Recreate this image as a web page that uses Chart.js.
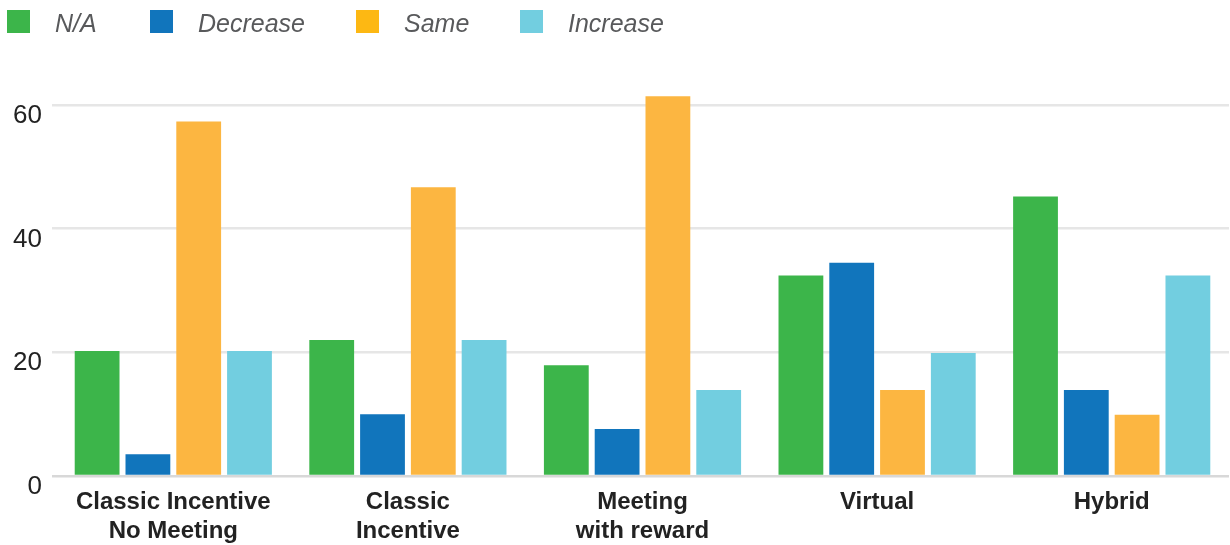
<!DOCTYPE html>
<html>
<head>
<meta charset="utf-8">
<script src="https://cdn.jsdelivr.net/npm/chart.js@4/dist/chart.umd.min.js"></script>
<style>
  html, body { margin: 0; padding: 0; background: #fff; }
  #wrap { position: relative; width: 1230px; height: 545px; }
  #legend { position: absolute; left: 0; top: 0; height: 45px; width: 1230px;
            font-family: "Helvetica Neue", "Liberation Sans", Arial, sans-serif; }
  .item { position: absolute; top: 10px; height: 23px; }
  .box { position: absolute; left: 0; top: 0; width: 23px; height: 23px; }
  .lbl { position: absolute; left: 48px; top: -1px; font-size: 25px; font-style: italic;
         color: #58595b; white-space: nowrap; line-height: 29px; }
</style>
</head>
<body>
<div id="wrap">
  <canvas id="myChart" width="1230" height="545"></canvas>
  <div id="legend"></div>
</div>
<script>
// chart data
const categories = [
  ["Classic Incentive", "No Meeting"],
  ["Classic", "Incentive"],
  ["Meeting", "with reward"],
  "Virtual",
  "Hybrid"
];
const seriesNames = ["N/A", "Decrease", "Same", "Increase"];
const naValues       = [20.2, 22, 17.9, 32.4, 45.2];
const decreaseValues = [3.5, 10, 7.6, 34.5, 13.9];
const sameValues     = [57.3, 46.7, 61.4, 13.9, 9.9];
const increaseValues = [20.2, 22, 13.9, 19.9, 32.4];
const yTicks = [0, 20, 40, 60];

const barColors = ["#3cb54a", "#1175bc", "#fcb641", "#72cee0"];
const legendColors = ["#3cb54a", "#1175bc", "#fdb813", "#72cee0"];
const legendX = [7, 150, 356, 520];

// legend (html, above canvas)
seriesNames.forEach((name, i) => {
  document.getElementById("legend").insertAdjacentHTML("beforeend",
    `<div class="item" style="left:${legendX[i]}px">` +
    `<div class="box" style="background:${legendColors[i]}"></div>` +
    `<div class="lbl">${name}</div>` +
    `</div>`
  );
});

const allValues = [naValues, decreaseValues, sameValues, increaseValues];
const gridColor = (c) => c.tick && c.tick.value === 0 ? '#d8d8d8' : '#e6e6e6';

var ctx = document.getElementById('myChart').getContext('2d');
var chart = new Chart(ctx, {
  type: 'bar',
  data: {
    labels: categories,
    datasets: seriesNames.map((name, i) => ({
      label: name,
      data: allValues[i],
      backgroundColor: barColors[i],
      borderWidth: 0,
      categoryPercentage: 0.866,
      barPercentage: 0.882
    }))
  },
  options: {
    responsive: false,
    animation: false,
    layout: { padding: { top: 74, left: 0, right: 1, bottom: 0 } },
    plugins: {
      legend: { display: false },
      tooltip: { enabled: false }
    },
    scales: {
      x: {
        grid: { display: false },
        border: { display: false },
        ticks: {
          color: '#222',
          padding: 4,
          maxRotation: 0,
          autoSkip: false,
          font: { family: '"Helvetica Neue", "Liberation Sans", Arial, sans-serif', size: 24, weight: 'bold', lineHeight: 1.2 }
        },
        afterFit: (scale) => { scale.height = 69; }
      },
      y: {
        min: 0,
        max: 65,
        border: { display: false },
        grid: {
          drawTicks: true,
          tickLength: 4,
          lineWidth: 2.5,
          color: gridColor,
          tickColor: gridColor
        },
        afterBuildTicks: (scale) => {
          scale.ticks = yTicks.map(v => ({ value: v }));
        },
        ticks: {
          color: '#222',
          padding: 10,
          labelOffset: 11,
          font: { family: '"Helvetica Neue", "Liberation Sans", Arial, sans-serif', size: 26 }
        },
        afterFit: (scale) => { scale.width = 56; }
      }
    }
  }
});
</script>
</body>
</html>
